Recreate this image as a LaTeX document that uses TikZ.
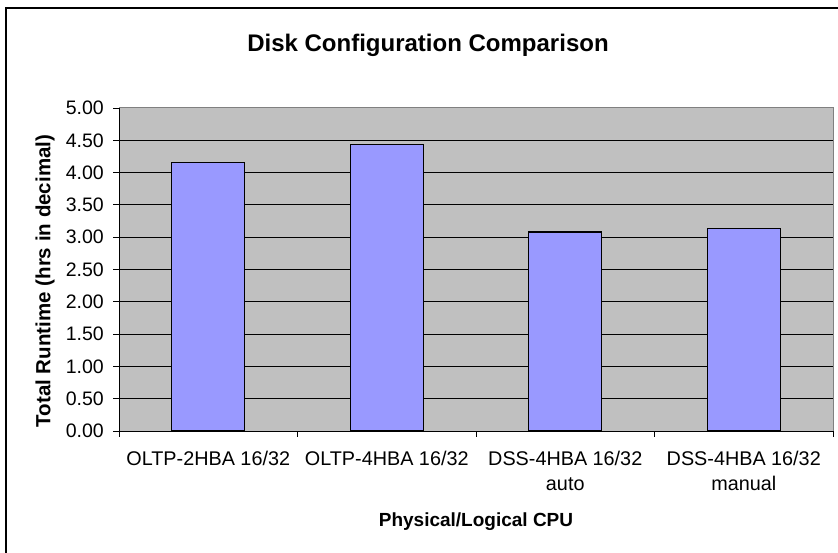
\documentclass[tikz,border=0pt]{standalone}
\usepackage{fontspec}
\setmainfont{Liberation Sans}
\definecolor{plotgray}{HTML}{C0C0C0}
\definecolor{barblue}{HTML}{9999FF}
\definecolor{edgegray}{HTML}{808080}
\begin{document}
\begin{tikzpicture}[x=1pt, y=1pt,
	bar/.style = {draw = black, fill = barblue, line width = 1.2pt},
	gridline/.style = {black, line width = 0.8pt},
	ticklabel/.style = {anchor = east, inner sep = 0pt,
					 font = \fontsize{19.5}{19.5}\selectfont},
	catlabel/.style = {anchor = north, align = center, inner sep = 0pt,
					 font = \fontsize{19.8}{25}\selectfont}]

	\useasboundingbox (0,0) rectangle (838,552);
	\clip (0,0) rectangle (838,552);

	% chart frame, cut at the right and bottom
	\draw[black, line width = 1.6pt] (6,-20) rectangle (870,544);

	% plot area
	\draw[edgegray, fill = plotgray, line width = 1pt] (119,121) rectangle (833,444);

	% grid lines, ticks and values
	\foreach \v/\txt in {0/0.00, 1/0.50, 2/1.00, 3/1.50, 4/2.00,
						 5/2.50, 6/3.00, 7/3.50, 8/4.00, 9/4.50, 10/5.00}
	{
		\ifnum\v>0 \ifnum\v<10
			\draw[gridline] (119, 121 + \v*32.3) -- (833, 121 + \v*32.3);
		\fi \fi
		\draw[black, line width = 0.8pt] (113, 121 + \v*32.3) -- (119, 121 + \v*32.3);
		\node[ticklabel] (t\v) at (104, 121 + \v*32.3) {\txt};
	}

	% axes
	\draw[black, line width = 1pt] (119,121) -- (119,444);
	\draw[black, line width = 1pt] (119,121) -- (833,121);
	\foreach \i in {0,...,4}
		\draw[black, line width = 0.8pt] (119 + \i*178.5, 121) -- (119 + \i*178.5, 115);

	% bars
	\foreach \i/\val in {0/4.16, 1/4.43, 2/3.08, 3/3.13}
		\draw[bar] (171.75 + \i*178.5, 121) rectangle (244.75 + \i*178.5, 121 + \val*64.6);

	% category names
	\node[catlabel] (c1) at (208.25,101) {OLTP-2HBA 16/32};
	\node[catlabel] (c2) at (386.75,101) {OLTP-4HBA 16/32};
	\node[catlabel] (c3) at (565.25,101) {DSS-4HBA 16/32\\auto};
	\node[catlabel] (c4) at (743.75,101) {DSS-4HBA 16/32\\manual};

	% titles
	\node[font = \bfseries\fontsize{24}{24}\selectfont] (title) at (428,507)
		{Disk Configuration Comparison};
	\node[font = \bfseries\fontsize{19}{19}\selectfont] (xtitle) at (476,30)
		{Physical/Logical CPU};
	\node[font = \bfseries\fontsize{20.5}{20.5}\selectfont, rotate = 90] (ytitle) at (45,271)
		{Total Runtime (hrs in decimal)};
\end{tikzpicture}
\end{document}
